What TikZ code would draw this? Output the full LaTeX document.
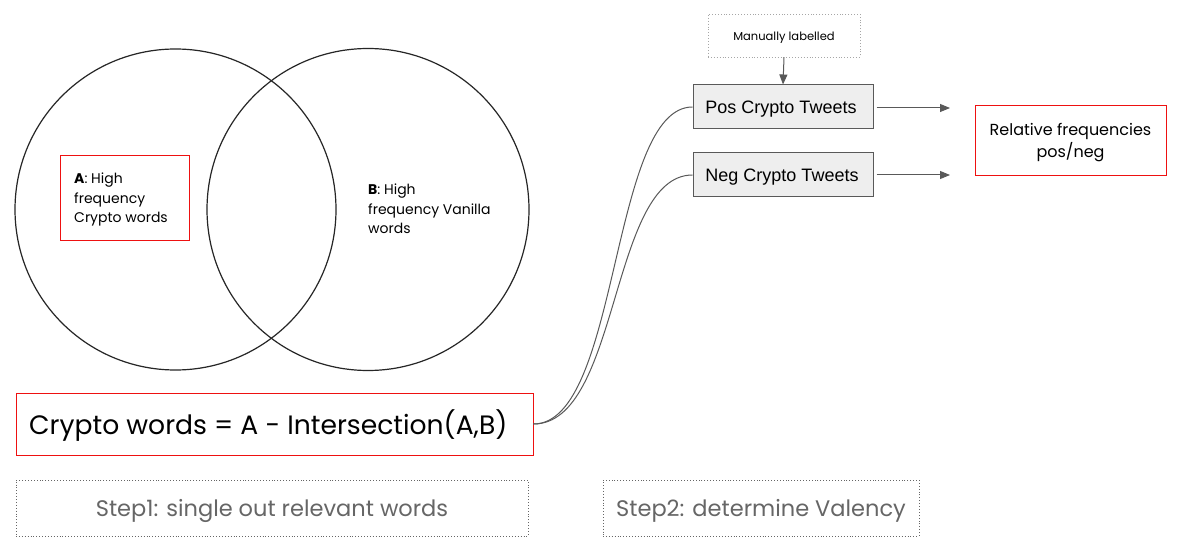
\documentclass[tikz,border=0pt]{standalone}
\usepackage{fontspec}
\setmainfont{Poppins}
\newfontfamily\arialf{Liberation Sans}
\usetikzlibrary{arrows.meta}
\definecolor{redb}{HTML}{EE1111}
\definecolor{grayl}{HTML}{595959}
\definecolor{grayt}{HTML}{666666}
\definecolor{fillg}{HTML}{EEEEEE}
\begin{document}
\begin{tikzpicture}[x=1pt,y=-1pt,
  redbox/.style={draw=redb,line width=0.9pt,rectangle,inner sep=0pt},
  tweetbox/.style={draw=grayl,fill=fillg,line width=1pt,rectangle,inner sep=0pt,minimum width=180pt,minimum height=44pt},
  tweettext/.style={inner sep=0pt,font=\arialf\fontsize{18}{21}\selectfont},
  stepbox/.style={draw=grayt,dotted,line width=0.9pt,rectangle,inner sep=0pt,minimum height=56pt},
  steptext/.style={inner sep=0pt,text=grayt,font=\fontsize{22.5}{26}\selectfont},
  conn/.style={draw=grayl,line width=1pt},
  arr/.style={conn,-{Triangle[length=10pt,width=8pt]}},
  venn/.style={draw=black!85,line width=1.2pt}]
\useasboundingbox (0,0) rectangle (1182,537);
\fill[white] (0,0) rectangle (1182,537);
% Venn circles
\node[venn,circle,minimum size=321pt,inner sep=0pt] (cA) at (175.5,209.5) {};
\node[venn,circle,minimum size=322pt,inner sep=0pt] (cB) at (368,209.5) {};
% A box
\node[redbox,minimum width=129pt,minimum height=85pt] (boxA) at (124.5,197.5) {};
\node[anchor=north west,align=left,inner sep=0pt,font=\fontsize{14}{19.5}\selectfont] (textA) at (74,173) {\textbf{A}: High\\frequency\\Crypto words};
% B text
\node[anchor=north west,align=left,inner sep=0pt,font=\fontsize{14}{19.5}\selectfont] (textB) at (368,184) {\textbf{B}: High\\frequency Vanilla\\words};
% Crypto words box
\node[redbox,minimum width=517pt,minimum height=62pt] (cw) at (274.5,424) {};
\node[anchor=west,inner sep=0pt,font=\fontsize{26.6}{31}\selectfont] (cwt) at (29,426) {Crypto words = A - Intersection(A,B)};
% Steps
\node[stepbox,minimum width=512pt] (s1) at (272,508) {};
\node[steptext] (s1t) at (272,511) {Step1: single out relevant words};
\node[stepbox,minimum width=316pt] (s2) at (761,508) {};
\node[steptext] (s2t) at (761,511) {Step2: determine Valency};
% Manually labelled
\node[draw=black!35,dotted,line width=0.9pt,rectangle,inner sep=0pt,minimum width=152pt,minimum height=43pt] (man) at (784,35.5) {};
\node[inner sep=0pt,font=\fontsize{11.5}{14}\selectfont] (mant) at (784,37.5) {Manually labelled};
% Tweets boxes
\node[tweetbox] (pos) at (783,107) {};
\node[tweettext] (post) at (781,109.5) {Pos Crypto Tweets};
\node[tweetbox] (neg) at (783,175) {};
\node[tweettext] (negt) at (782,177.5) {Neg Crypto Tweets};
% Relative frequency
\node[redbox,minimum width=191pt,minimum height=70pt] (rel) at (1070.5,140) {};
\node[inner sep=0pt,align=center,font=\fontsize{16}{22}\selectfont] (relt) at (1070.5,143) {Relative frequencies\\pos/neg};
% Connectors
\draw[arr] (man.south) -- (pos.north);
\coordinate (pe) at (950,108);
\coordinate (ne) at (950,175);
\draw[arr] ([xshift=3pt,yshift=-1pt]pos.east) -- (pe);
\draw[arr] ([xshift=3pt]neg.east) -- (ne);
\draw[conn] (cw.east) .. controls (620,424) and (610,107) .. (pos.west);
\draw[conn] (cw.east) .. controls (620,424) and (610,175) .. (neg.west);
\end{tikzpicture}
\end{document}
